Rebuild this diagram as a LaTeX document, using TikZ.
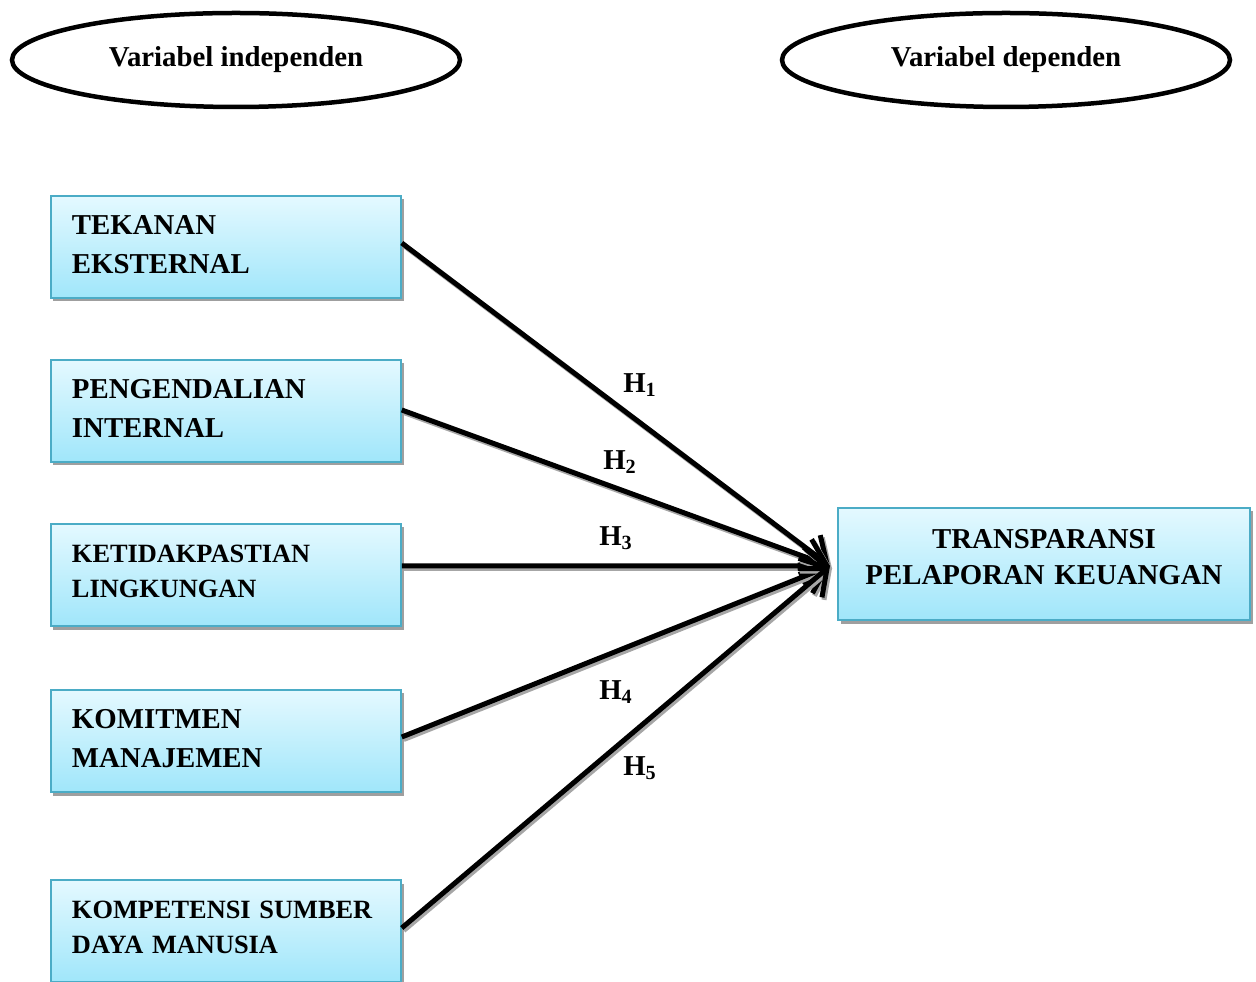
\documentclass[tikz,border=0pt]{standalone}
\usepackage{fontspec}
\setmainfont{Liberation Serif}
\usetikzlibrary{arrows.meta,shapes.geometric,shadows}

\definecolor{boxline}{RGB}{75,172,198}
\definecolor{boxtop}{RGB}{228,249,255}
\definecolor{boxbot}{RGB}{160,230,250}

\tikzset{
  bigfont/.style={font=\bfseries\fontsize{16.4}{22}\selectfont,text depth=8.8mm},
  smallfont/.style={font=\bfseries\fontsize{15}{20}\selectfont,text depth=8.6mm},
  varbox/.style={draw=boxline,line width=0.3mm,top color=boxtop,bottom color=boxbot,
    drop shadow={shadow xshift=0.5mm,shadow yshift=-0.7mm,fill=gray!75,opacity=1},
    text width=61.6mm,inner xsep=4.2mm,minimum height=20.4mm,align=left},
  oval/.style={ellipse,draw,line width=0.9mm,minimum width=89.6mm,minimum height=18.8mm,
    font=\bfseries\fontsize{16.4}{22}\selectfont},
  hyp/.style={font=\bfseries\fontsize{16.4}{22}\selectfont},
}

\begin{document}
\begin{tikzpicture}[x=0.2mm,y=0.2mm]
   \useasboundingbox (0,0) rectangle (1256,981);
   \node[oval] (Indep) at (236,921) {Variabel independen};
   \node[oval] (Dep)   at (1006,921) {Variabel dependen};
   \node[varbox,bigfont] (TekEks) at (226,734) {TEKANAN\\EKSTERNAL};
   \node[varbox,bigfont] (PenInt) at (226,570) {PENGENDALIAN\\INTERNAL};
   \node[varbox,smallfont] (KetLing) at (226,406) {KETIDAKPASTIAN\\LINGKUNGAN};
   \node[varbox,bigfont] (KomMan) at (226,240) {KOMITMEN\\MANAJEMEN};
   \node[varbox,smallfont] (KomSdm) at (226,50) {KOMPETENSI SUMBER\\DAYA MANUSIA};
   \node[varbox,text width=74mm,minimum height=22.4mm,align=center,
         font=\bfseries\fontsize{16.4}{21}\selectfont,text depth=10.2mm] (Trans) at (1044,417)
         {TRANSPARANSI\\PELAPORAN KEUANGAN};
   \coordinate (tip) at (830,415);
   \tikzset{EdgeStyle/.style={line width=1mm,
       -{Straight Barb[length=4.5mm,width=7.5mm]},
       preaction={draw=gray!70,line width=1mm,
         -{Straight Barb[length=4.5mm,width=7.5mm]},
         transform canvas={shift={(0.4mm,-0.5mm)}}}}}
   \draw[EdgeStyle] ([yshift=0.8mm]TekEks.east)  -- (tip);
   \draw[EdgeStyle] ([yshift=0.2mm]PenInt.east)  -- (tip);
   \draw[EdgeStyle] ([yshift=1.8mm]KetLing.east) -- (tip);
   \draw[EdgeStyle] ([yshift=0.8mm]KomMan.east)  -- (tip);
   \draw[EdgeStyle] ([yshift=0.6mm]KomSdm.east)  -- (tip);
   \node[hyp] (H1) at (640,596) {H\textsubscript{1}};
   \node[hyp] (H2) at (620,519) {H\textsubscript{2}};
   \node[hyp] (H3) at (616,443) {H\textsubscript{3}};
   \node[hyp] (H4) at (616,289) {H\textsubscript{4}};
   \node[hyp] (H5) at (640,213) {H\textsubscript{5}};
\end{tikzpicture}
\end{document}
